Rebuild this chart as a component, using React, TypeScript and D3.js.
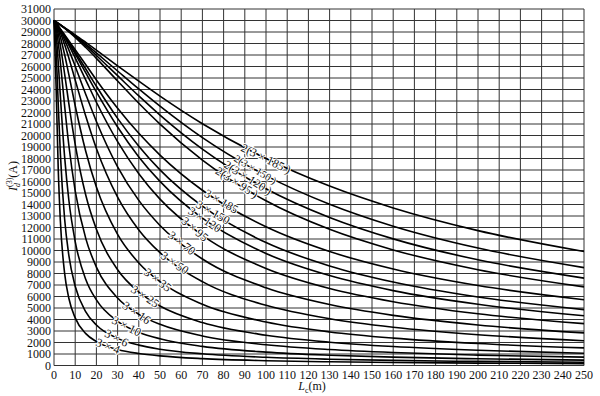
import * as d3 from "d3";

// cable length Lc (m) at which the curves were read
const lengths = [0, 1, 2, 3, 5, 7, 10, 15, 20, 30, 40, 50, 70, 100, 130, 160, 200, 250];

// short-circuit current Id(3) (A) per cable
const c3x4 = [30000, 24240, 17060, 12590, 8030, 5850, 4140, 2770, 2080, 1390, 1044, 836, 597, 418, 322, 261, 209, 167];
const c3x6 = [30000, 27450, 22720, 18430, 12760, 9570, 6890, 4670, 3520, 2360, 1773, 1419, 1015, 711, 547, 444, 355, 284];
const c3x10 = [30000, 28830, 26350, 23410, 18160, 14390, 10770, 7480, 5700, 3840, 2897, 2323, 1663, 1165, 897, 729, 583, 467];
const c3x16 = [30000, 29360, 28080, 26370, 22590, 19150, 15190, 11030, 8560, 5870, 4450, 3580, 2568, 1804, 1390, 1130, 904, 724];
const c3x25 = [30000, 29570, 28830, 27820, 25370, 22770, 19230, 14800, 11840, 8330, 6390, 5170, 3730, 2630, 2028, 1651, 1323, 1059];
const c3x35 = [30000, 29670, 29190, 28570, 27040, 25290, 22590, 18610, 15520, 11400, 8920, 7290, 5320, 3780, 2920, 2383, 1912, 1532];
const c3x50 = [30000, 29710, 29360, 28930, 27920, 26740, 24820, 21670, 18870, 14640, 11790, 9810, 7290, 5230, 4070, 3330, 2680, 2153];
const c3x70 = [30000, 29730, 29430, 29090, 28320, 27450, 26020, 23570, 21220, 17280, 14360, 12180, 9260, 6760, 5300, 4360, 3520, 2835];
const c3x95 = [30000, 29740, 29470, 29180, 28550, 27860, 26750, 24820, 22890, 19460, 16680, 14470, 11320, 8440, 6700, 5550, 4500, 3640];
const c3x120 = [30000, 29750, 29490, 29220, 28650, 28040, 27090, 25440, 23790, 20740, 18140, 16010, 12810, 9740, 7820, 6510, 5320, 4320];
const c3x150 = [30000, 29750, 29500, 29240, 28700, 28140, 27260, 25780, 24280, 21490, 19070, 17010, 13850, 10690, 8660, 7260, 5960, 4860];
const c3x185 = [30000, 29750, 29510, 29260, 28760, 28240, 27460, 26150, 24830, 22370, 20190, 18300, 15240, 12060, 9910, 8390, 6950, 5720];
const d3x95 = [30000, 29870, 29740, 29610, 29330, 29020, 28540, 27650, 26710, 24740, 22800, 20990, 17860, 14320, 11840, 10050, 8330, 6840];
const d3x120 = [30000, 29870, 29740, 29610, 29340, 29060, 28610, 27810, 26960, 25200, 23440, 21780, 18820, 15370, 12870, 11010, 9190, 7600];
const d3x150 = [30000, 29870, 29750, 29620, 29360, 29100, 28680, 27950, 27180, 25610, 24050, 22550, 19810, 16510, 14020, 12110, 10210, 8510];
const d3x185 = [30000, 29870, 29750, 29630, 29380, 29130, 28750, 28090, 27420, 26060, 24720, 23420, 21020, 18000, 15600, 13700, 11730, 9910];

const cableNames = [
  "3 × 4", "3 × 6", "3 × 10", "3 × 16", "3 × 25", "3 × 35", "3 × 50", "3 × 70",
  "3 × 95", "3 × 120", "3 × 150", "3 × 185",
  "2(3 × 95 )", "2(3 × 120 )", "2(3 × 150 )", "2(3 × 185 )",
];
const cableValues = [
  c3x4, c3x6, c3x10, c3x16, c3x25, c3x35, c3x50, c3x70,
  c3x95, c3x120, c3x150, c3x185, d3x95, d3x120, d3x150, d3x185,
];
// length (m) where each curve carries its label
const labelLengths = [25.5, 29.6, 34.3, 39, 43, 49, 57, 60.4, 66.5, 71.2, 75, 79, 86.3, 91.5, 95, 100];
const labelSizes = [12, 12, 12, 12, 12, 12, 12, 12, 12, 12, 12, 12, 12, 12, 10.5, 12];

const xTicks = d3.range(0, 251, 10);
const yTicks = d3.range(0, 31001, 1000);

const W = 600;
const H = 396;
const FONT = "'Liberation Serif', 'Times New Roman', serif";

export default function App() {
  const x = d3.scaleLinear().domain([0, 250]).range([54, 584]);
  const y = d3.scaleLinear().domain([0, 31000]).range([365.5, 9]);

  const line = d3
    .line<[number, number]>()
    .x((d) => x(d[0]))
    .y((d) => y(d[1]))
    .curve(d3.curveMonotoneX);

  const series = cableNames.map((name, i) => {
    const vals = cableValues[i];
    const interp = d3.scaleLinear().domain(lengths).range(vals);
    const L = labelLengths[i];
    const a = Math.atan2(y(interp(L + 3)) - y(interp(L - 3)), x(L + 3) - x(L - 3));
    return {
      name,
      size: labelSizes[i],
      path: line(lengths.map((l, j) => [l, vals[j]] as [number, number])) ?? "",
      lx: x(L),
      ly: y(interp(L)),
      angle: (a * 180) / Math.PI,
    };
  });

  return (
    <svg
      width={W}
      height={H}
      style={{ position: "absolute", left: 0, top: 0, background: "#fff" }}
      fontFamily={FONT}
    >
      {/* grid */}
      <g stroke="#333" strokeWidth={1}>
        {xTicks.map((t) => (
          <line key={`gx${t}`} x1={x(t)} x2={x(t)} y1={y(0)} y2={y(31000)} />
        ))}
        {yTicks.map((t) => (
          <line key={`gy${t}`} x1={x(0)} x2={x(250)} y1={y(t)} y2={y(t)} />
        ))}
      </g>

      {/* curves */}
      <g fill="none" stroke="#000" strokeWidth={1.6}>
        {series.map((s) => (
          <path key={s.name} d={s.path} />
        ))}
      </g>

      {/* curve labels */}
      <g fill="#111">
        {series.map((s) => (
          <text
            key={`l${s.name}`}
            transform={`translate(${s.lx},${s.ly}) rotate(${s.angle})`}
            textAnchor="middle"
            dy="0.35em"
            fontSize={s.size}
            stroke="#fff"
            strokeWidth={2}
            paintOrder="stroke"
          >
            {s.name}
          </text>
        ))}
      </g>

      {/* y tick labels */}
      <g fontSize={12} fill="#111" textAnchor="end">
        {yTicks.map((t) => (
          <text key={`ty${t}`} x={51} y={y(t)} dy="0.35em">
            {t}
          </text>
        ))}
      </g>

      {/* x tick labels */}
      <g fontSize={12} fill="#111" textAnchor="middle">
        {xTicks.map((t) => (
          <text key={`tx${t}`} x={x(t)} y={379}>
            {t}
          </text>
        ))}
      </g>

      {/* axis titles */}
      <text x={312} y={390} fontSize={12} textAnchor="middle" fill="#111">
        <tspan fontStyle="italic">L</tspan>
        <tspan fontSize={8} dy={3}>c</tspan>
        <tspan dy={-3}>(m)</tspan>
      </text>
      <text transform="translate(17,176) rotate(-90)" fontSize={12} textAnchor="middle" fill="#111">
        <tspan fontStyle="italic">I</tspan>
        <tspan fontSize={8} fontStyle="italic" dy={3}>d</tspan>
        <tspan fontSize={8} dx={-4} dy={-8}>(3)</tspan>
        <tspan dy={5}>(A)</tspan>
      </text>
    </svg>
  );
}
